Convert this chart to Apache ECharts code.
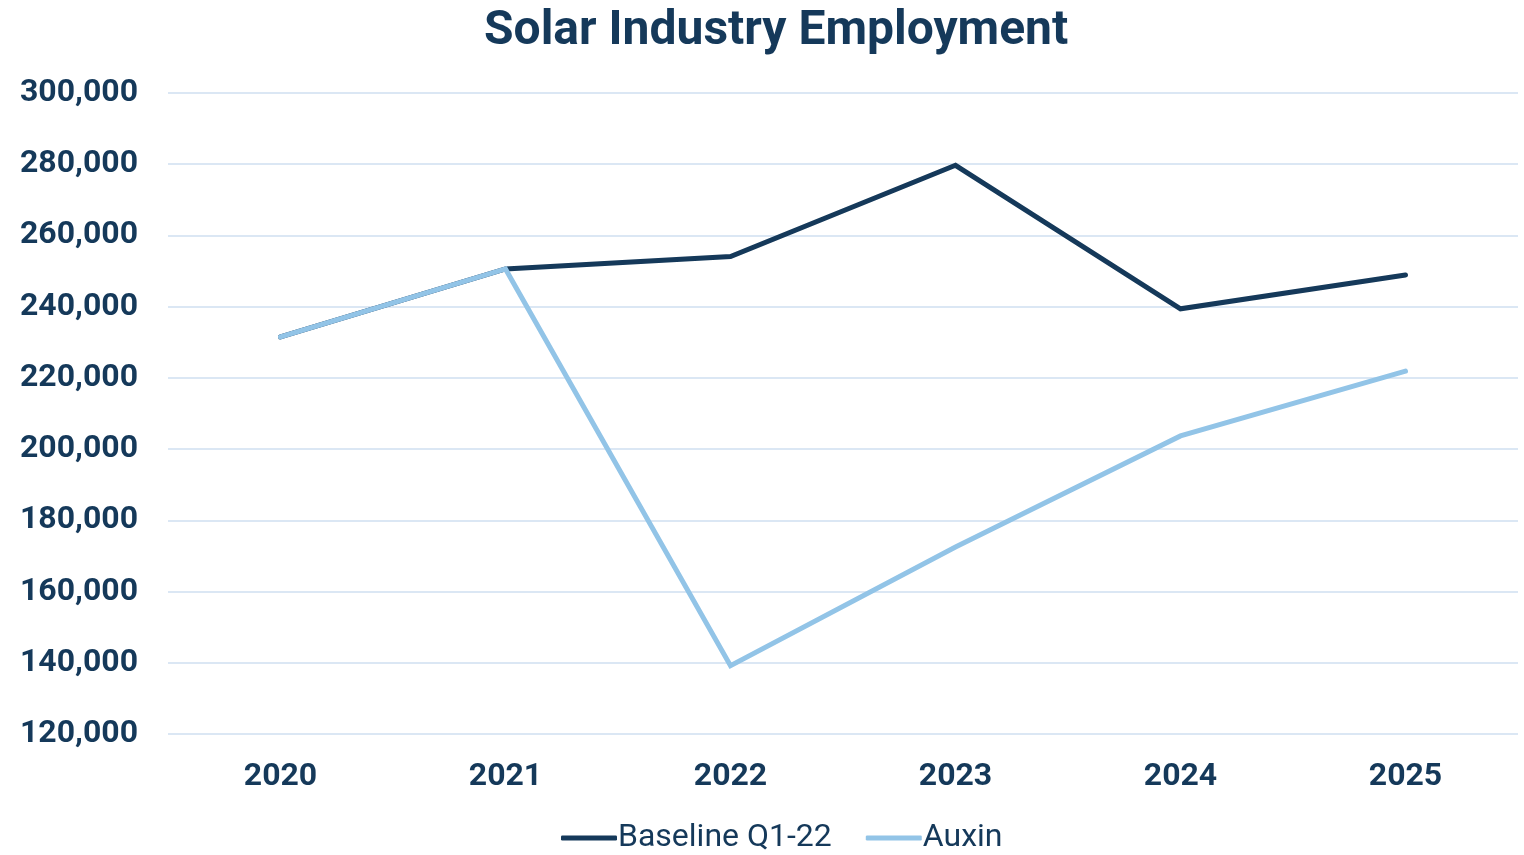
<!DOCTYPE html>
<html>
<head>
<meta charset="utf-8">
<style>
  html, body { margin: 0; padding: 0; background: #ffffff; }
  #chart { width: 1524px; height: 855px; }
</style>
<script src="https://cdn.jsdelivr.net/npm/echarts@6/dist/echarts.min.js"></script>
</head>
<body>
<div id="chart"></div>
<script>
// Solar industry employment, two scenarios
const years = ['2020', '2021', '2022', '2023', '2024', '2025'];
const baseline = [231500, 250600, 254100, 279700, 239400, 248900];
const auxin = [231500, 250600, 139200, 172500, 203700, 221900];
const seriesNames = ['Baseline Q1-22', 'Auxin'];

const navy = '#15395a';
const lightBlue = '#92c4e7';
const fontFamily = 'Roboto, "Noto Sans", sans-serif';

const chart = echarts.init(document.getElementById('chart'), null, { renderer: 'canvas' });

chart.setOption({
  animation: false,
  backgroundColor: '#ffffff',
  title: {
    text: 'Solar Industry Employment',
    left: 479,
    top: 3,
    textStyle: { color: navy, fontFamily, fontWeight: 'bold', fontSize: 48 }
  },
  legend: {
    data: seriesNames,
    top: 817,
    left: 556,
    icon: 'roundRect',
    itemWidth: 56,
    itemHeight: 5,
    itemGap: 34,
    textStyle: { color: navy, fontFamily, fontSize: 32, padding: [0, 0, 0, -4] }
  },
  grid: { left: 168, right: 6, top: 93, bottom: 121 },
  xAxis: {
    type: 'category',
    data: years,
    boundaryGap: true,
    axisLine: { show: false },
    axisTick: { show: false },
    axisLabel: { color: navy, fontFamily, fontWeight: 'bold', fontSize: 32, margin: 27 }
  },
  yAxis: {
    type: 'value',
    min: 120000,
    max: 300000,
    interval: 20000,
    axisLine: { show: false },
    axisTick: { show: false },
    axisLabel: {
      color: navy, fontFamily, fontWeight: 'bold', fontSize: 32, margin: 30,
      padding: [9, 0, 0, 0],
      formatter: v => v.toLocaleString('en-US')
    },
    splitLine: { lineStyle: { color: '#dbe7f4', width: 2 } }
  },
  series: [
    {
      name: seriesNames[0],
      type: 'line',
      data: baseline,
      showSymbol: false,
      symbol: 'none',
      color: navy,
      lineStyle: { color: navy, width: 5, cap: 'round', join: 'miter' }
    },
    {
      name: seriesNames[1],
      type: 'line',
      data: auxin,
      showSymbol: false,
      symbol: 'none',
      color: lightBlue,
      lineStyle: { color: lightBlue, width: 5, cap: 'round', join: 'miter' }
    }
  ]
});
</script>
</body>
</html>
